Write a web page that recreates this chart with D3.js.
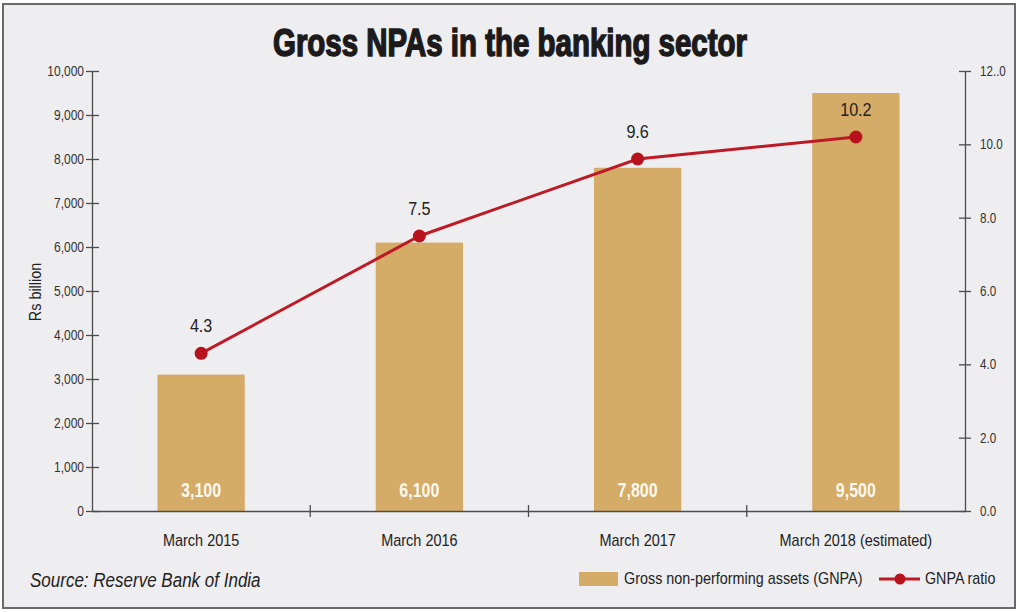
<!DOCTYPE html>
<html><head><meta charset="utf-8">
<script src="https://cdn.jsdelivr.net/npm/d3@7/dist/d3.min.js"></script>
<style>
html,body{margin:0;padding:0;background:#ffffff;}
svg{display:block;}
text{font-family:"Liberation Sans",Arial,sans-serif;}
</style></head>
<body>
<svg id="chart" width="1024" height="612"></svg>
<script>
const categories = ["March 2015","March 2016","March 2017","March 2018 (estimated)"];
const gnpaValues = [3100, 6100, 7800, 9500];
const ratioValues = [4.3, 7.5, 9.6, 10.2];
const leftTicks = [0,1000,2000,3000,4000,5000,6000,7000,8000,9000,10000];
const rightTicks = [0,2,4,6,8,10,12];
const rightTickLabels = ["0.0","2.0","4.0","6.0","8.0","10.0","12..0"];

(function(){
const svg = d3.select("#chart");
const mLeft = 92, mRight = 965, mTop = 71, mBottom = 511;

function narrow(sel, f){
  sel.each(function(){
    const w = this.getComputedTextLength();
    this.setAttribute("textLength", w*(f||0.82));
    this.setAttribute("lengthAdjust","spacingAndGlyphs");
  });
  return sel;
}

svg.append("rect").attr("x",3).attr("y",4).attr("width",1012).attr("height",604)
  .attr("fill","#eeedef").attr("stroke","#6a6a6a").attr("stroke-width",2);

svg.append("text").attr("x",510).attr("y",56).attr("text-anchor","middle")
  .attr("font-size",39).attr("font-weight","bold").attr("fill","#1c1a1b")
  .attr("stroke","#1c1a1b").attr("stroke-width",1.6)
  .attr("textLength",474).attr("lengthAdjust","spacingAndGlyphs")
  .text("Gross NPAs in the banking sector");

const x = d3.scaleBand().domain(categories).range([mLeft,mRight]).padding(0);
const yL = d3.scaleLinear().domain([0,10000]).range([mBottom,mTop]);
const yR = d3.scaleLinear().domain([0,12]).range([mBottom,mTop]);
const barW = x.bandwidth()*0.4;
const cx = d => x(d) + x.bandwidth()/2;

svg.append("g").selectAll("rect").data(categories).join("rect")
  .attr("x", d => cx(d) - barW/2)
  .attr("y", (d,i) => yL(gnpaValues[i]))
  .attr("width", barW)
  .attr("height", (d,i) => yL(0) - yL(gnpaValues[i]))
  .attr("fill","#d4ab67");

narrow(svg.append("g").selectAll("text").data(categories).join("text")
  .attr("x", d => cx(d)).attr("y", 497)
  .attr("text-anchor","middle").attr("font-size",20).attr("font-weight","bold")
  .attr("fill","#fdf8ee")
  .text((d,i) => d3.format(",")(gnpaValues[i])), 0.8);

const axisColor = "#4d4d4d";
const gL = svg.append("g").attr("transform",`translate(${mLeft},0)`)
  .call(d3.axisLeft(yL).tickValues(leftTicks).tickFormat(d3.format(",")).tickSize(6).tickSizeOuter(0).tickPadding(2));
gL.selectAll(".tick line").attr("x1",7).attr("x2",-6);
const gR = svg.append("g").attr("transform",`translate(${mRight},0)`)
  .call(d3.axisRight(yR).tickValues(rightTicks).tickFormat((d,i)=>rightTickLabels[i]).tickSize(6).tickSizeOuter(0).tickPadding(9));
gR.selectAll(".tick line").attr("x1",-6).attr("x2",6);
gL.attr("font-family",null).attr("font-size",15);
gR.attr("font-family",null).attr("font-size",14.5);
[gL,gR].forEach(g=>{
  g.select(".domain").attr("stroke",axisColor).attr("stroke-width",1.3);
  g.selectAll(".tick line").attr("stroke",axisColor).attr("stroke-width",1.3);
  narrow(g.selectAll(".tick text").attr("fill","#333"), 0.8);
});

const gB = svg.append("g").attr("transform",`translate(0,${mBottom})`)
  .call(d3.axisBottom(x).tickSize(0).tickPadding(23).tickSizeOuter(0));
gB.attr("font-family",null).attr("font-size",17);
gB.select(".domain").attr("stroke",axisColor).attr("stroke-width",1.3);
narrow(gB.selectAll(".tick text").attr("fill","#222"), 0.85);
gB.selectAll(".bnd").data(categories.slice(1)).join("line").attr("class","bnd")
  .attr("x1", d => x(d)).attr("x2", d => x(d)).attr("y1",-6).attr("y2",6)
  .attr("stroke",axisColor).attr("stroke-width",1.3);

narrow(svg.append("text").attr("transform","translate(41,292) rotate(-90)")
  .attr("text-anchor","middle").attr("font-size",16).attr("fill","#222").text("Rs billion"), 0.9);

const red = "#bd1a26";
const line = d3.line().x((d,i)=>cx(categories[i])).y(d=>yR(d));
svg.append("path").datum(ratioValues).attr("d",line)
  .attr("fill","none").attr("stroke",red).attr("stroke-width",3);
svg.append("g").selectAll("circle").data(ratioValues).join("circle")
  .attr("cx",(d,i)=>cx(categories[i])).attr("cy",d=>yR(d)).attr("r",6.5).attr("fill","#b8121d");
narrow(svg.append("g").selectAll("text").data(ratioValues).join("text")
  .attr("x",(d,i)=>cx(categories[i])).attr("y",d=>yR(d)-21)
  .attr("text-anchor","middle").attr("font-size",19).attr("fill","#222")
  .text(d=>d.toFixed(1)), 0.85);

narrow(svg.append("text").attr("x",30).attr("y",587).attr("font-size",20).attr("font-style","italic")
  .attr("fill","#222").text("Source: Reserve Bank of India"), 0.85);

svg.append("rect").attr("x",579).attr("y",572).attr("width",39).attr("height",14).attr("fill","#d4ab67");
narrow(svg.append("text").attr("x",624).attr("y",584).attr("font-size",17).attr("fill","#222")
  .text("Gross non-performing assets (GNPA)"), 0.845);
svg.append("line").attr("x1",879).attr("x2",920).attr("y1",579).attr("y2",579)
  .attr("stroke",red).attr("stroke-width",3);
svg.append("circle").attr("cx",900).attr("cy",579).attr("r",5.5).attr("fill","#b8121d");
narrow(svg.append("text").attr("x",925).attr("y",584).attr("font-size",17).attr("fill","#222").text("GNPA ratio"), 0.84);
})();
</script>
</body></html>
